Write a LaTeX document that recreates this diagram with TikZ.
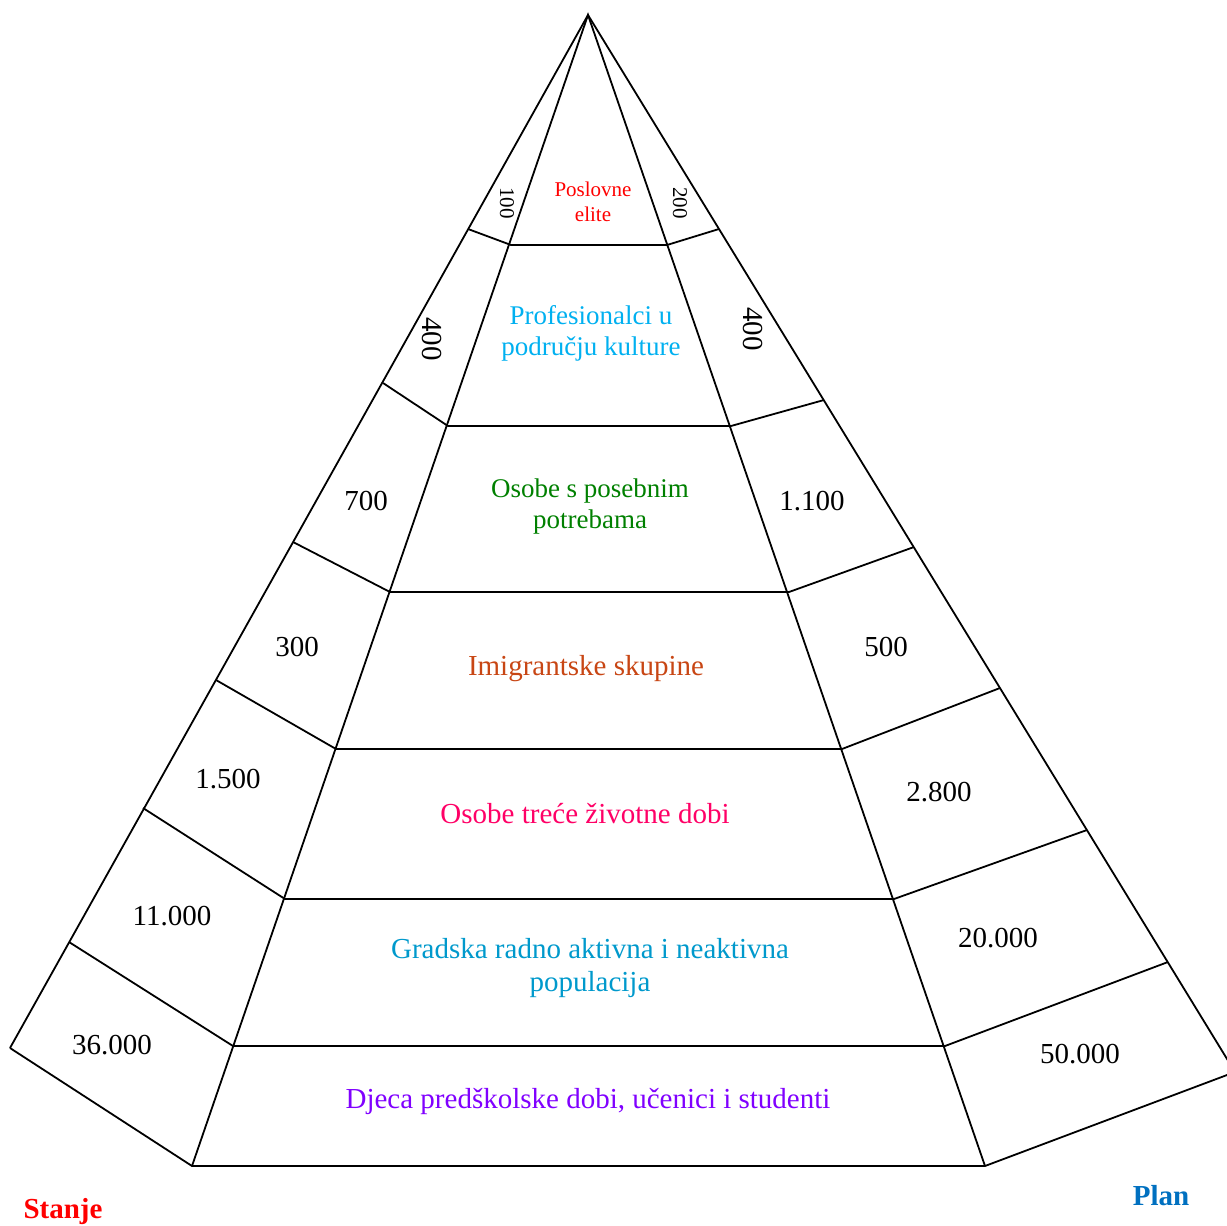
\documentclass[tikz,border=0pt]{standalone}
\usepackage{fontspec}
\setmainfont{Liberation Serif}

\definecolor{elite}{RGB}{255,0,0}
\definecolor{profi}{RGB}{0,176,240}
\definecolor{posebni}{RGB}{0,128,0}
\definecolor{imigr}{RGB}{200,70,20}
\definecolor{stari}{RGB}{255,0,102}
\definecolor{gradski}{RGB}{0,153,204}
\definecolor{djeca}{RGB}{128,0,255}
\definecolor{plan}{RGB}{0,112,192}

\begin{document}
\begin{tikzpicture}[
		x=1pt, y=-1pt,
		line width=1.8pt,
		every node/.style = {
			align=center, inner sep=0pt,
			font=\fontsize{29}{33}\selectfont},
		small/.style = {font=\fontsize{21}{25}\selectfont},
		mid/.style = {font=\fontsize{27}{31}\selectfont},
		vert/.style = {rotate=-90}]
	\useasboundingbox (0,0) rectangle (1227,1226);
	\coordinate (top) at (588,15);
	% points on the inner pyramid
	\foreach \n/\xl/\xr/\y in {1/511/667/245, 2/448/731/426, 3/390/789/592,
			4/336/842/749, 5/285/894/899, 6/233/945/1046, 7/192/985/1166} {
		\coordinate (l\n) at (\xl,\y);
		\coordinate (r\n) at (\xr,\y);
	}
	% points on the outer edges
	\foreach \n/\x/\y in {1/468/229, 2/383/383, 3/293/542, 4/216/680,
			5/143/808, 6/69/942, 7/10/1048}
		\coordinate (ol\n) at (\x,\y);
	\foreach \n/\x/\y in {1/719/229, 2/824/400, 3/914/547, 4/1000/688,
			5/1087/830, 6/1168/962, 7/1235/1072}
		\coordinate (or\n) at (\x,\y);

	\draw (l7) -- (top) -- (r7);
	\draw (ol7) -- (top) -- (or7);
	\foreach \n in {1,...,7}
		\draw (ol\n) -- (l\n) -- (r\n) -- (or\n);

	% groups
	\node[small, text=elite] (g1) at (593,202) {Poslovne\\elite};
	\node[mid, text=profi] (g2) at (591,333) {Profesionalci u\\području kulture};
	\node[mid, text=posebni] (g3) at (590,507) {Osobe s posebnim\\potrebama};
	\node[text=imigr] (g4) at (586,669) {Imigrantske skupine};
	\node[text=stari] (g5) at (585,814) {Osobe treće životne dobi};
	\node[text=gradski] (g6) at (590,968) {Gradska radno aktivna i neaktivna\\populacija};
	\node[text=djeca] (g7) at (588,1101) {Djeca predškolske dobi, učenici i studenti};

	% Stanje
	\node[small, vert] (s1) at (507,203) {100};
	\node[vert] (s2) at (432,339) {400};
	\node (s3) at (366,501) {700};
	\node (s4) at (297,647) {300};
	\node (s5) at (228,779) {1.500};
	\node (s6) at (172,916) {11.000};
	\node (s7) at (112,1045) {36.000};

	% Plan
	\node[small, vert] (p1) at (680,203) {200};
	\node[vert] (p2) at (753,329) {400};
	\node (p3) at (812,501) {1.100};
	\node (p4) at (886,647) {500};
	\node (p5) at (939,792) {2.800};
	\node (p6) at (998,938) {20.000};
	\node (p7) at (1080,1054) {50.000};

	\node[text=elite, font=\fontsize{29}{33}\selectfont\bfseries] (stanje) at (63,1212) {Stanje};
	\node[text=plan, font=\fontsize{29}{33}\selectfont\bfseries] (plan) at (1161,1196) {Plan};
\end{tikzpicture}
\end{document}
